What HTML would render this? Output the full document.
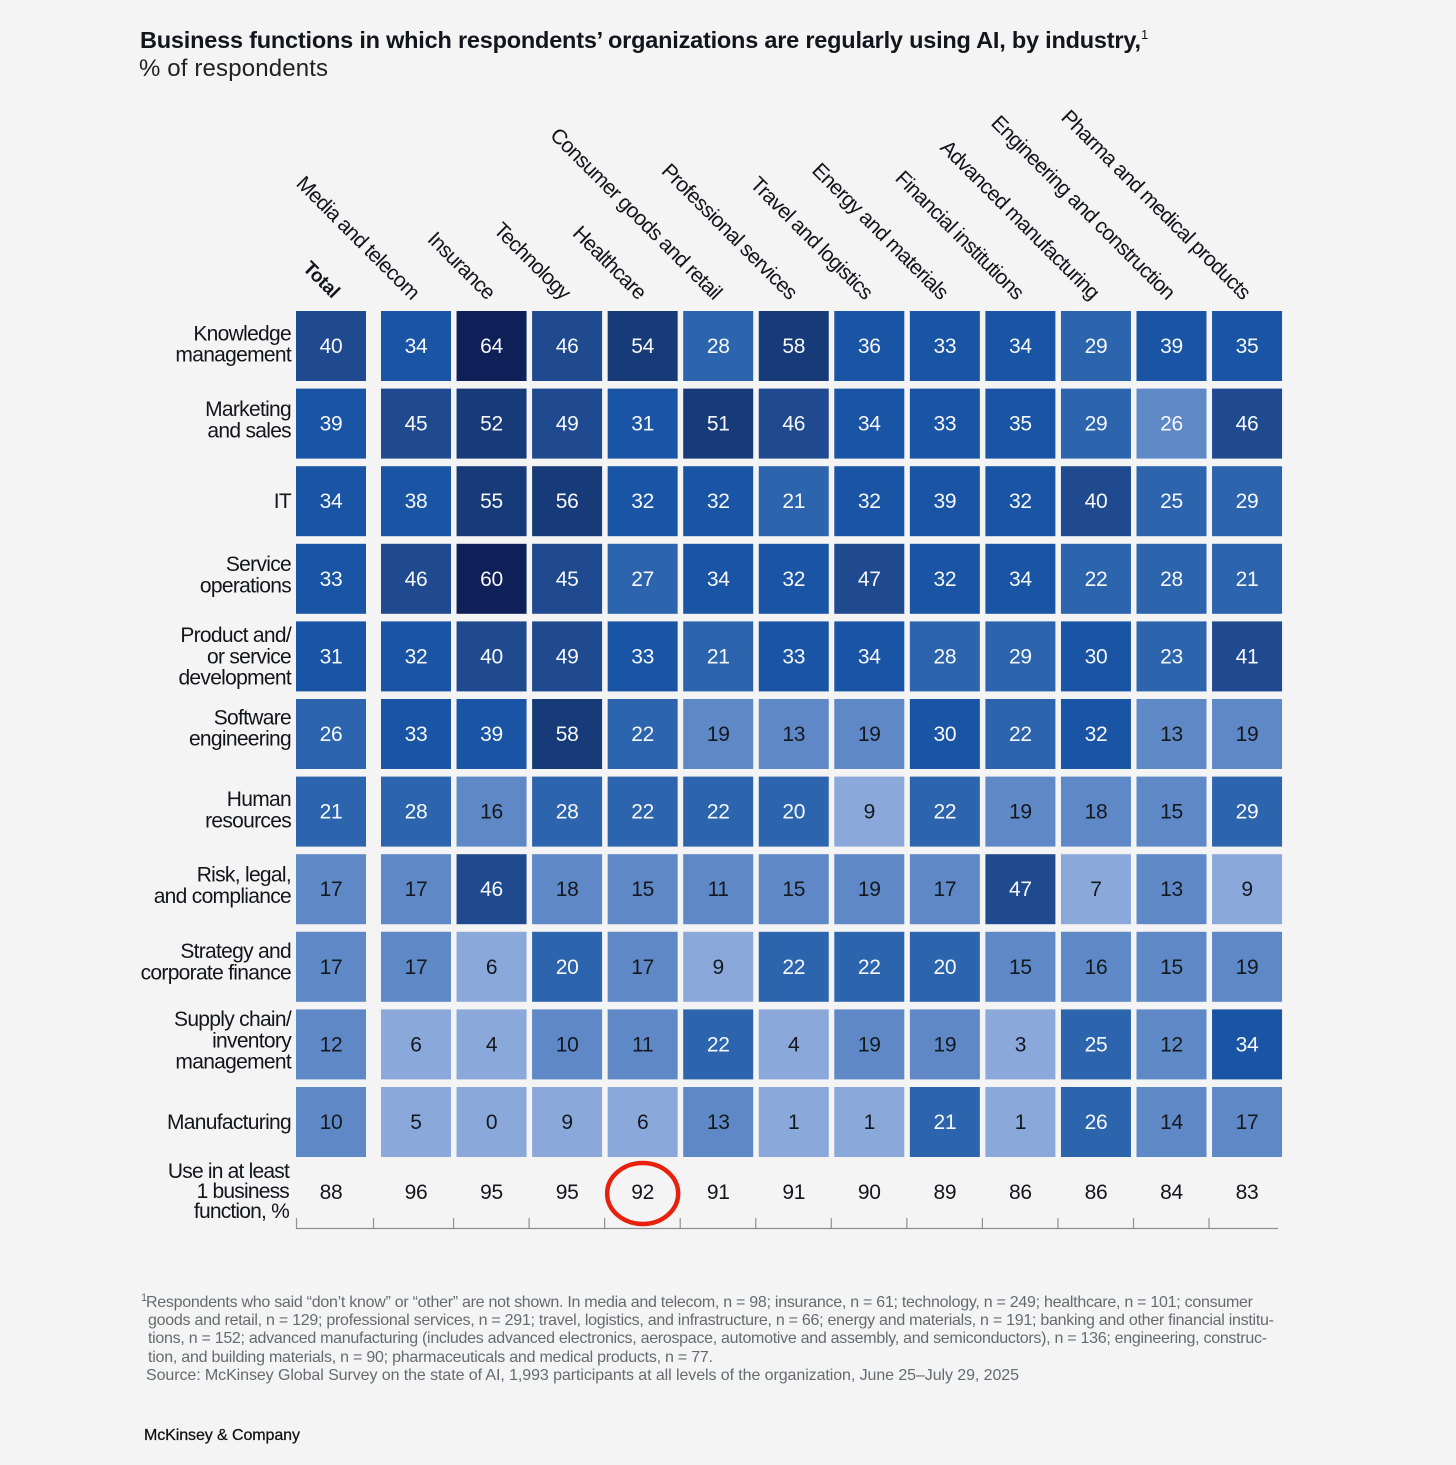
<!DOCTYPE html>
<html lang="en">
<head>
<meta charset="utf-8">
<title>Business functions regularly using AI, by industry</title>
<style>
  html, body { margin: 0; padding: 0; background: #f4f4f4; }
  svg { display: block; font-family: "Liberation Sans", Arial, sans-serif; }
</style>
</head>
<body>
<svg id="chart" xmlns="http://www.w3.org/2000/svg" width="1456" height="1465" viewBox="0 0 1456 1465">
  <rect x="0" y="0" width="1456" height="1465" fill="#f4f4f4"/>
  <text x="140" y="48" font-size="23.5" font-weight="700" fill="#14141c" textLength="1001" lengthAdjust="spacing">Business functions in which respondents’ organizations are regularly using AI, by industry,</text>
  <text x="1141" y="39" font-size="13" fill="#14141c">1</text>
  <text x="139" y="76" font-size="24" fill="#222" textLength="189" lengthAdjust="spacing">% of respondents</text>

  <g id="column-headers" fill="#14141c"></g>
  <g id="row-labels" fill="#14141c"></g>
  <g id="cells"></g>
  <g id="summary" fill="#14141c"></g>
  <g id="axis" stroke="#8f8f8f" stroke-width="1.2"></g>

  <g font-size="16" fill="#666a70">
    <text x="141" y="1301" font-size="11">1</text>
    <text x="146" y="1307" textLength="1107" lengthAdjust="spacing">Respondents who said “don’t know” or “other” are not shown. In media and telecom, n = 98; insurance, n = 61; technology, n = 249; healthcare, n = 101; consumer</text>
    <text x="148" y="1325" textLength="1126" lengthAdjust="spacing">goods and retail, n = 129; professional services, n = 291; travel, logistics, and infrastructure, n = 66; energy and materials, n = 191; banking and other financial institu-</text>
    <text x="148" y="1343" textLength="1119" lengthAdjust="spacing">tions, n = 152; advanced manufacturing (includes advanced electronics, aerospace, automotive and assembly, and semiconductors), n = 136; engineering, construc-</text>
    <text x="148" y="1362" textLength="565" lengthAdjust="spacing">tion, and building materials, n = 90; pharmaceuticals and medical products, n = 77.</text>
    <text x="146" y="1380" textLength="873" lengthAdjust="spacing">Source: McKinsey Global Survey on the state of AI, 1,993 participants at all levels of the organization, June 25–July 29, 2025</text>
  </g>
  <text x="144" y="1440" font-size="16" fill="#111" stroke="#111" stroke-width="0.25" textLength="156" lengthAdjust="spacing">McKinsey &amp; Company</text>
</svg>

<script>
// ---- Chart data ----
const industries = ['Total', 'Media and telecom', 'Insurance', 'Technology', 'Healthcare', 'Consumer goods and retail', 'Professional services', 'Travel and logistics', 'Energy and materials', 'Financial institutions', 'Advanced manufacturing', 'Engineering and construction', 'Pharma and medical products'];
const functionLabels = [
  ['Knowledge', 'management'],
  ['Marketing', 'and sales'],
  ['IT'],
  ['Service', 'operations'],
  ['Product and/', 'or service', 'development'],
  ['Software', 'engineering'],
  ['Human', 'resources'],
  ['Risk, legal,', 'and compliance'],
  ['Strategy and', 'corporate finance'],
  ['Supply chain/', 'inventory', 'management'],
  ['Manufacturing']
];
const knowledgeManagement = [40, 34, 64, 46, 54, 28, 58, 36, 33, 34, 29, 39, 35];
const marketingAndSales = [39, 45, 52, 49, 31, 51, 46, 34, 33, 35, 29, 26, 46];
const informationTechnology = [34, 38, 55, 56, 32, 32, 21, 32, 39, 32, 40, 25, 29];
const serviceOperations = [33, 46, 60, 45, 27, 34, 32, 47, 32, 34, 22, 28, 21];
const productDevelopment = [31, 32, 40, 49, 33, 21, 33, 34, 28, 29, 30, 23, 41];
const softwareEngineering = [26, 33, 39, 58, 22, 19, 13, 19, 30, 22, 32, 13, 19];
const humanResources = [21, 28, 16, 28, 22, 22, 20, 9, 22, 19, 18, 15, 29];
const riskLegalCompliance = [17, 17, 46, 18, 15, 11, 15, 19, 17, 47, 7, 13, 9];
const strategyCorporateFinance = [17, 17, 6, 20, 17, 9, 22, 22, 20, 15, 16, 15, 19];
const supplyChainInventory = [12, 6, 4, 10, 11, 22, 4, 19, 19, 3, 25, 12, 34];
const manufacturing = [10, 5, 0, 9, 6, 13, 1, 1, 21, 1, 26, 14, 17];
const useInAtLeastOne = [88, 96, 95, 95, 92, 91, 91, 90, 89, 86, 86, 84, 83];
const summaryLabel = ['Use in at least', '1 business', 'function, %'];
const highlightedColumn = 4;
const lighterShadeCell = [1, 11];

const seriesRows = [knowledgeManagement, marketingAndSales, informationTechnology, serviceOperations, productDevelopment, softwareEngineering, humanResources, riskLegalCompliance, strategyCorporateFinance, supplyChainInventory, manufacturing];

// ---- Axis functions ----
const NS = 'http://www.w3.org/2000/svg';
const cellW = 70;
const cellH = 70;
function xCol(i) { return i === 0 ? 296 : 381 + (i - 1) * 75.55; }
function yRow(r) { return 311 + r * 77.6; }
function rowLabelNudge(r) {
  if (r === 5) return -6;
  if (r === 8) return -5;
  if (r === 1 || r === 3 || r === 7 || r === 9) return -4;
  if (r === 0 || r === 6) return -2;
  return 0;
}
function shade(v) {
  if (v >= 60) return '#0f1f57';
  if (v >= 50) return '#163b78';
  if (v >= 40) return '#1f4a8f';
  if (v >= 30) return '#1a55a5';
  if (v >= 20) return '#2c65ae';
  if (v >= 10) return '#5e88c6';
  return '#8aa9da';
}
function make(parent, tag, attrs, text) {
  const el = document.createElementNS(NS, tag);
  for (const k in attrs) el.setAttribute(k, attrs[k]);
  if (text !== undefined) el.textContent = text;
  parent.appendChild(el);
  return el;
}
function slug(s) { return s.toLowerCase().replace(/[^a-z0-9]+/g, '-').replace(/^-|-$/g, ''); }

// ---- Column headers ----
const headerGroup = document.getElementById('column-headers');
industries.forEach(function (name, i) {
  const endX = i === 0 ? xCol(0) + 36 : xCol(i) + 30;
  const endY = i === 0 ? 299 : 300.5;
  const t = make(headerGroup, 'text', {
    transform: 'translate(' + endX + ',' + endY + ') rotate(45)',
    'text-anchor': 'end',
    'font-size': i === 0 ? 19 : 21,
    'letter-spacing': i === 0 ? '-0.3' : '-0.8',
    'font-weight': i === 0 ? 700 : 400
  }, name);
  
  
});

// ---- Row labels ----
const labelGroup = document.getElementById('row-labels');
functionLabels.forEach(function (lines, r) {
  const center = yRow(r) + cellH / 2 + rowLabelNudge(r);
  lines.forEach(function (line, n) {
    const y = center + 7 + (n - (lines.length - 1) / 2) * 21.3;
    const t = make(labelGroup, 'text', {
      x: 291, y: y, 'text-anchor': 'end', 'font-size': 21, 'letter-spacing': '-0.7'
    }, line);
    
    
  });
});

// ---- Heatmap cells ----
const cellGroup = document.getElementById('cells');
seriesRows.forEach(function (row, r) {
  row.forEach(function (v, c) {
    const isLighter = r === lighterShadeCell[0] && c === lighterShadeCell[1];
    const rect = make(cellGroup, 'rect', {
      x: xCol(c), y: yRow(r), width: cellW, height: cellH,
      fill: isLighter ? '#5e88c6' : shade(v)
    });
    
    
    const label = make(cellGroup, 'text', {
      x: xCol(c) + cellW / 2, y: yRow(r) + cellH / 2 + 7,
      'text-anchor': 'middle', 'font-size': 21, 'letter-spacing': '-0.3',
      fill: v >= 20 ? '#f6f8fc' : '#14181f'
    }, String(v));
    
    
  });
});

// ---- Summary row ----
const summaryGroup = document.getElementById('summary');
summaryLabel.forEach(function (line, n) {
  const t = make(summaryGroup, 'text', {
    x: 289, y: 1178 + n * 20, 'text-anchor': 'end', 'font-size': 21, 'letter-spacing': '-0.8'
  }, line);
  
  
});
useInAtLeastOne.forEach(function (v, c) {
  const t = make(summaryGroup, 'text', {
    x: xCol(c) + cellW / 2, y: 1199, 'text-anchor': 'middle', 'font-size': 21, 'letter-spacing': '-0.3'
  }, String(v));
  
  
});
const ring = make(summaryGroup, 'ellipse', {
  cx: xCol(highlightedColumn) + cellW / 2, cy: 1193.5, rx: 35.5, ry: 30.5,
  fill: 'none', stroke: '#e8200e', 'stroke-width': 4.5
});



// ---- Axis line and ticks ----
const axisGroup = document.getElementById('axis');
const baseline = make(axisGroup, 'line', { x1: 296, x2: 1278, y1: 1228.5, y2: 1228.5 });


industries.forEach(function (name, i) {
  const tx = i === 0 ? 296.5 : (i === 1 ? 373.5 : xCol(i) - 3);
  const tick = make(axisGroup, 'line', { x1: tx, x2: tx, y1: 1218, y2: 1228.5 });
  
  
});
</script>
</body>
</html>
